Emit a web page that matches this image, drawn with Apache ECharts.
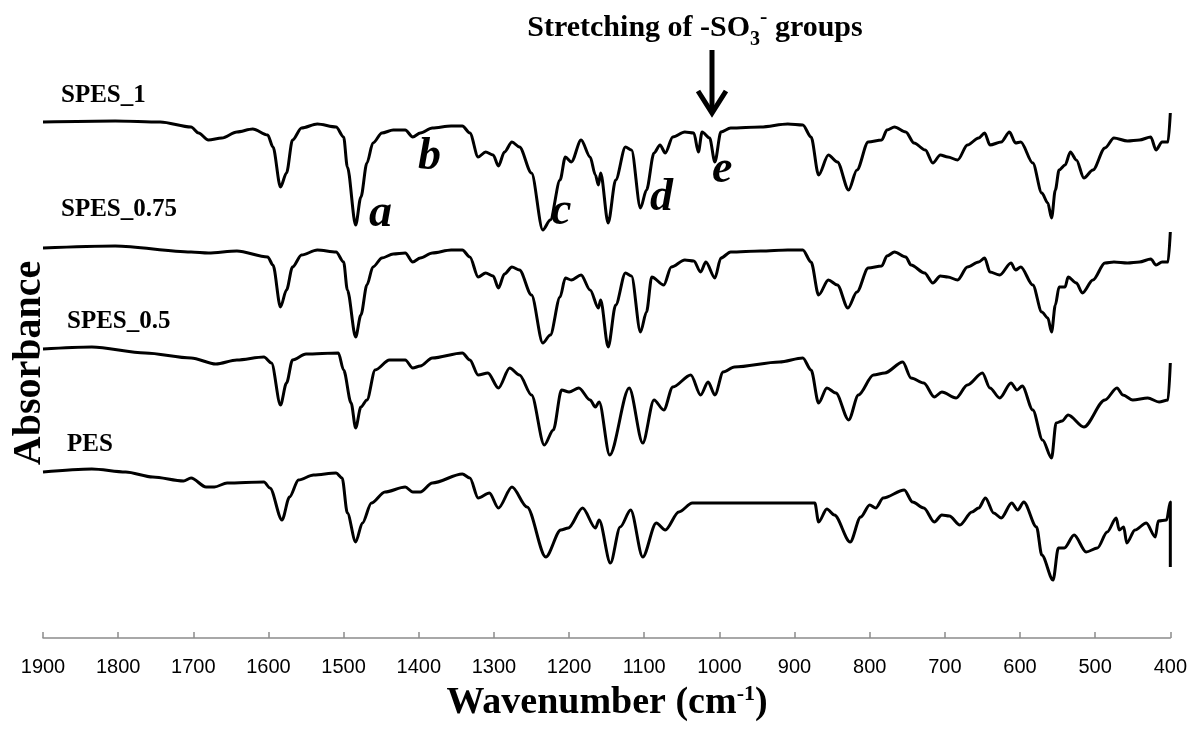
<!DOCTYPE html>
<html>
<head>
<meta charset="utf-8">
<title>FTIR spectra</title>
<script src="https://cdn.jsdelivr.net/npm/echarts@6/dist/echarts.min.js"></script>
<style>
  html, body { margin: 0; padding: 0; background: #fff; }
  #ftirChart { width: 1190px; height: 729px; }
</style>
</head>
<body>
<div id="ftirChart"></div>
<script>
// 横轴刻度
var wnTicks = [1900, 1800, 1700, 1600, 1500, 1400, 1300, 1200, 1100, 1000, 900, 800, 700, 600, 500, 400];

// 各样品光谱 [波数, 吸光度(任意单位, 已含偏移)]
var spes1 = [
  [1900,5.16],[1804,5.17],[1744,5.16],[1703,5.11],[1693,5.05],[1680,4.98],[1662,5.00],[1642,5.06],
  [1621,5.09],[1601,5.03],[1594,4.91],[1584,4.51],[1576,4.65],[1568,4.98],[1556,5.10],[1535,5.14],
  [1510,5.11],[1500,5.01],[1495,4.71],[1484,4.13],[1477,4.41],[1469,4.75],[1461,4.95],[1449,5.05],
  [1434,5.08],[1418,5.08],[1408,5.01],[1398,5.05],[1382,5.10],[1357,5.12],[1342,5.12],[1332,5.05],
  [1321,4.81],[1311,4.86],[1301,4.83],[1294,4.72],[1286,4.86],[1276,4.96],[1266,4.91],[1250,4.65],
  [1235,4.08],[1225,4.18],[1212,4.58],[1205,4.81],[1197,4.76],[1184,4.98],[1172,4.81],[1165,4.63],
  [1161,4.53],[1158,4.65],[1148,4.15],[1138,4.58],[1125,4.91],[1117,4.88],[1105,4.30],[1097,4.48],
  [1087,4.85],[1079,4.93],[1072,4.85],[1062,5.01],[1046,5.06],[1034,5.05],[1028,4.86],[1023,5.06],
  [1013,5.00],[1006,4.76],[998,5.06],[985,5.10],[945,5.11],[909,5.14],[889,5.13],[878,5.01],
  [868,4.63],[855,4.83],[843,4.76],[828,4.48],[817,4.68],[802,4.96],[784,4.98],[777,5.08],
  [767,5.11],[752,5.06],[741,4.95],[726,4.88],[716,4.75],[706,4.83],[696,4.81],[683,4.78],
  [670,4.93],[655,5.00],[647,5.05],[640,4.93],[625,4.96],[614,5.06],[606,4.95],[599,4.96],
  [583,4.75],[571,4.45],[563,4.35],[558,4.20],[553,4.48],[548,4.68],[540,4.73],[533,4.86],
  [525,4.78],[515,4.60],[503,4.68],[487,4.90],[475,5.00],[457,4.97],[441,4.98],[426,5.01],
  [419,4.88],[411,4.96],[403,4.96],[400,5.25]
];
var spes075 = [
  [1900,3.90],[1804,3.92],[1703,3.86],[1680,3.85],[1642,3.87],[1601,3.81],[1594,3.73],[1584,3.31],
  [1576,3.48],[1568,3.71],[1556,3.83],[1535,3.88],[1510,3.86],[1500,3.76],[1495,3.48],[1484,3.01],
  [1477,3.23],[1469,3.53],[1461,3.71],[1449,3.80],[1434,3.84],[1418,3.85],[1408,3.76],[1398,3.80],
  [1382,3.85],[1357,3.88],[1342,3.88],[1332,3.81],[1321,3.61],[1311,3.65],[1301,3.62],[1294,3.50],
  [1286,3.64],[1276,3.71],[1266,3.68],[1250,3.43],[1235,2.95],[1225,3.03],[1212,3.41],[1205,3.60],
  [1197,3.58],[1184,3.63],[1172,3.48],[1161,3.30],[1158,3.38],[1148,2.91],[1138,3.33],[1125,3.65],
  [1117,3.62],[1105,3.06],[1097,3.26],[1090,3.61],[1074,3.53],[1064,3.71],[1046,3.78],[1034,3.77],
  [1025,3.66],[1018,3.76],[1006,3.60],[998,3.80],[985,3.86],[945,3.87],[909,3.88],[889,3.88],
  [878,3.76],[868,3.43],[855,3.58],[843,3.53],[829,3.30],[817,3.46],[802,3.70],[784,3.72],
  [777,3.82],[767,3.86],[752,3.81],[745,3.73],[727,3.65],[716,3.55],[706,3.62],[696,3.61],
  [683,3.58],[670,3.71],[655,3.76],[647,3.80],[640,3.66],[627,3.63],[612,3.75],[606,3.68],
  [599,3.71],[583,3.53],[571,3.26],[563,3.20],[558,3.06],[553,3.33],[548,3.51],[540,3.51],
  [536,3.61],[525,3.55],[517,3.45],[503,3.58],[487,3.75],[475,3.76],[457,3.75],[441,3.76],
  [426,3.79],[419,3.73],[411,3.76],[403,3.76],[400,4.06]
];
var spes05 = [
  [1900,2.89],[1835,2.91],[1764,2.85],[1703,2.80],[1670,2.74],[1642,2.78],[1606,2.81],[1596,2.75],
  [1584,2.33],[1576,2.55],[1568,2.78],[1550,2.84],[1507,2.85],[1500,2.68],[1490,2.35],[1484,2.10],
  [1477,2.31],[1469,2.38],[1458,2.68],[1439,2.78],[1418,2.78],[1408,2.70],[1398,2.72],[1382,2.80],
  [1342,2.85],[1332,2.78],[1321,2.63],[1308,2.65],[1294,2.50],[1279,2.70],[1266,2.63],[1250,2.43],
  [1233,1.93],[1221,2.08],[1210,2.48],[1200,2.46],[1187,2.50],[1172,2.38],[1165,2.31],[1160,2.36],
  [1146,1.83],[1120,2.50],[1102,1.95],[1087,2.38],[1074,2.28],[1062,2.51],[1038,2.63],[1025,2.43],
  [1015,2.56],[1006,2.43],[995,2.66],[980,2.71],[920,2.76],[889,2.80],[878,2.68],[868,2.35],
  [857,2.50],[845,2.45],[828,2.18],[815,2.43],[795,2.63],[780,2.65],[756,2.76],[745,2.60],
  [728,2.55],[714,2.41],[704,2.46],[685,2.40],[670,2.53],[650,2.65],[640,2.50],[627,2.40],
  [612,2.55],[604,2.48],[597,2.52],[583,2.28],[570,1.98],[558,1.80],[552,2.15],[544,2.17],
  [536,2.23],[515,2.11],[487,2.38],[471,2.50],[463,2.43],[450,2.38],[430,2.40],[415,2.36],
  [403,2.38],[400,2.75]
];
var pes = [
  [1900,1.66],[1835,1.69],[1790,1.66],[1754,1.61],[1713,1.57],[1703,1.60],[1683,1.51],[1672,1.51],
  [1655,1.55],[1606,1.56],[1598,1.50],[1582,1.18],[1572,1.41],[1560,1.58],[1540,1.63],[1510,1.65],
  [1502,1.60],[1495,1.25],[1484,0.96],[1475,1.15],[1463,1.35],[1445,1.46],[1418,1.51],[1408,1.46],
  [1398,1.46],[1382,1.55],[1342,1.64],[1332,1.60],[1321,1.40],[1306,1.45],[1294,1.30],[1276,1.51],
  [1256,1.31],[1231,0.81],[1211,1.08],[1201,1.10],[1182,1.30],[1165,1.10],[1160,1.18],[1145,0.75],
  [1132,1.11],[1118,1.28],[1102,0.81],[1084,1.15],[1072,1.08],[1054,1.26],[1036,1.35],[873,1.35],
  [868,1.16],[857,1.29],[847,1.23],[826,0.96],[812,1.21],[800,1.33],[792,1.30],[782,1.40],
  [754,1.48],[743,1.36],[728,1.30],[714,1.16],[704,1.23],[694,1.22],[680,1.13],[664,1.26],
  [655,1.30],[646,1.40],[635,1.25],[625,1.20],[611,1.35],[603,1.28],[595,1.36],[578,1.11],
  [571,0.83],[556,0.58],[549,0.90],[541,0.90],[528,1.03],[512,0.86],[497,0.90],[484,1.06],
  [472,1.20],[468,1.08],[462,1.11],[458,0.95],[447,1.08],[432,1.15],[420,1.01],[416,1.17],
  [405,1.18],[400,1.36],[400,0.71]
];

var seriesNames = ['SPES_1', 'SPES_0.75', 'SPES_0.5', 'PES'];
var seriesData = [spes1, spes075, spes05, pes];

(function () {
    var chart = echarts.init(document.getElementById('ftirChart'));
    var serif = '"Liberation Serif", "Times New Roman", serif';

    var series = seriesData.map(function (d, i) {
        return {
            name: seriesNames[i],
            type: 'line',
            data: d,
            showSymbol: false,
            silent: true,
            smooth: 0.3,
            smoothMonotone: 'x',
            lineStyle: { color: '#000', width: 3, join: 'round' },
            itemStyle: { color: '#000' }
        };
    });

    function label(text, x, y, size, italic) {
        return {
            type: 'text',
            x: x, y: y,
            silent: true,
            style: {
                text: text,
                fill: '#000',
                fontSize: size,
                fontWeight: 'bold',
                fontStyle: italic ? 'italic' : 'normal',
                fontFamily: serif,
                align: 'left', verticalAlign: 'middle',
                textAlign: 'left', textVerticalAlign: 'middle'
            }
        };
    }

    var option = {
        animation: false,
        backgroundColor: '#fff',
        grid: { left: 43, right: 18, top: 88, bottom: 91 },
        xAxis: {
            type: 'value',
            inverse: true,
            min: 400,
            max: 1900,
            interval: 100,
            splitLine: { show: false },
            axisLine: { show: true, lineStyle: { color: '#8c8c8c', width: 1.5 } },
            axisTick: { show: true, inside: true, length: 6, lineStyle: { color: '#8c8c8c', width: 1.5 } },
            axisLabel: {
                margin: 19,
                color: '#000',
                fontSize: 20,
                fontFamily: '"Liberation Sans", Arial, sans-serif',
                formatter: function (v) { return wnTicks.indexOf(v) > -1 ? String(v) : ''; }
            }
        },
        yAxis: { type: 'value', min: 0, max: 5.5, show: false },
        series: series,
        graphic: [
            // 样品名称
            label('SPES_1', 61, 96, 25),
            label('SPES_0.75', 61, 210, 25),
            label('SPES_0.5', 67, 322, 25),
            label('PES', 67, 445, 25),
            // 峰标注
            label('a', 369, 214, 46, true),
            label('b', 418, 157, 46, true),
            label('c', 551, 212, 46, true),
            label('d', 650, 198, 46, true),
            label('e', 712, 170, 46, true),
            // 纵轴标题
            {
                type: 'text',
                x: 30, y: 363,
                rotation: Math.PI / 2,
                silent: true,
                style: {
                    text: 'Absorbance',
                    fill: '#000',
                    fontSize: 40,
                    fontWeight: 'bold',
                    fontFamily: serif,
                    align: 'center', verticalAlign: 'middle',
                    textAlign: 'center', textVerticalAlign: 'middle'
                }
            },
            // 横轴标题
            {
                type: 'text',
                x: 607, y: 703,
                silent: true,
                style: {
                    text: '{m|Wavenumber (cm}{sup|-1}{m|)}',
                    rich: {
                        m: { fontSize: 38, fontWeight: 'bold', fontFamily: serif, color: '#000', lineHeight: 40 },
                        sup: { fontSize: 22, fontWeight: 'bold', fontFamily: serif, color: '#000', verticalAlign: 'top', lineHeight: 22 }
                    },
                    align: 'center', verticalAlign: 'middle',
                    textAlign: 'center', textVerticalAlign: 'middle'
                }
            },
            // 磺酸基说明
            {
                type: 'text',
                x: 695, y: 28,
                silent: true,
                style: {
                    text: '{m|Stretching of -SO}{sub|3}{sup|-}{m| groups}',
                    rich: {
                        m: { fontSize: 30, fontWeight: 'bold', fontFamily: serif, color: '#000', lineHeight: 44 },
                        sub: { fontSize: 20, fontWeight: 'bold', fontFamily: serif, color: '#000', verticalAlign: 'bottom', lineHeight: 20 },
                        sup: { fontSize: 22, fontWeight: 'bold', fontFamily: serif, color: '#000', verticalAlign: 'top', lineHeight: 34 }
                    },
                    align: 'center', verticalAlign: 'middle',
                    textAlign: 'center', textVerticalAlign: 'middle'
                }
            },
            // 箭头
            {
                type: 'line',
                silent: true,
                shape: { x1: 712, y1: 50, x2: 712, y2: 110 },
                style: { stroke: '#000', lineWidth: 5 }
            },
            {
                type: 'polyline',
                silent: true,
                shape: { points: [[698, 91], [712, 113], [726, 91]] },
                style: { stroke: '#000', lineWidth: 5, fill: null, lineJoin: 'miter' }
            }
        ]
    };

    chart.setOption(option);
})();
</script>
</body>
</html>
